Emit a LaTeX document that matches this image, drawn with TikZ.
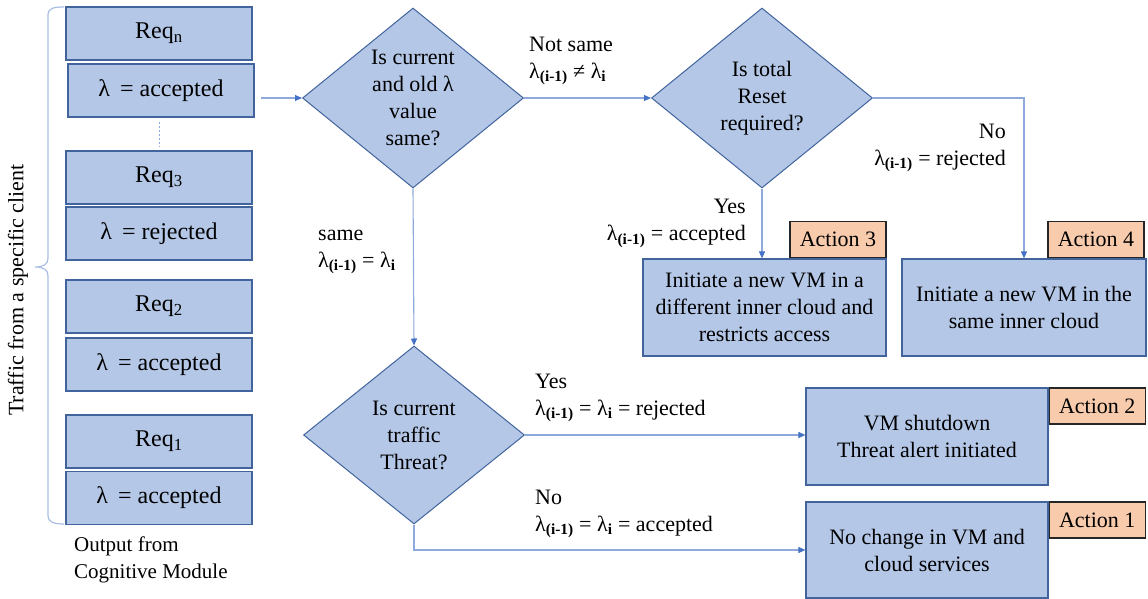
\documentclass[tikz,border=0pt]{standalone}
\usepackage{fontspec}
\setmainfont{Liberation Serif}
\usetikzlibrary{shapes.geometric,arrows.meta,calc}
\definecolor{boxfill}{HTML}{B4C7E7}
\definecolor{boxline}{HTML}{41649C}
\definecolor{tagfill}{HTML}{F8CBAD}
\definecolor{linkline}{HTML}{8EA9DB}
\definecolor{tipblue}{HTML}{4472C4}
\definecolor{bracecol}{HTML}{A9BEE2}
% lambda with a bold subscript
\newcommand{\lamsub}[1]{λ\textsubscript{\textbf{#1}}}

\begin{document}
\begin{tikzpicture}[x=1pt,y=-1pt,
  txt/.style={font=\fontsize{22}{27}\selectfont},
  reqbox/.style={draw=boxline, line width=1.2pt, fill=boxfill,
    minimum width=186pt, minimum height=53pt, inner sep=0pt,
    font=\fontsize{24}{27}\selectfont},
  decision/.style={diamond, draw=boxline, line width=1pt, fill=boxfill,
    minimum width=221pt, minimum height=180pt, inner sep=0pt,
    align=center, txt},
  actbox/.style={draw=boxline, line width=1.2pt, fill=boxfill,
    minimum width=243pt, minimum height=97pt, inner sep=0pt,
    align=center, txt},
  tag/.style={draw=black!85, line width=1.2pt, fill=tagfill,
    minimum width=96pt, minimum height=36pt, inner sep=0pt, txt},
  link/.style={draw=linkline, line width=1.1pt,
    -{Triangle[length=7pt,width=6pt,color=tipblue]}},
  lbl/.style={txt, inner sep=0pt},
]
\useasboundingbox (0,0) rectangle (1148,599);

% requests from the cognitive module
\node[reqbox] (rqn) at (159,33.5) {Req\textsubscript{n}};
\node[reqbox] (lmn) at (161,90.5) {λ\hspace{10pt}= accepted};
\node[reqbox] (rq3) at (159,177.5) {Req\textsubscript{3}};
\node[reqbox] (lm3) at (159,233.5) {λ\hspace{10pt}= rejected};
\node[reqbox] (rq2) at (159,306.5) {Req\textsubscript{2}};
\node[reqbox] (lm2) at (159,364.5) {λ\hspace{10pt}= accepted};
\node[reqbox] (rq1) at (159,441.5) {Req\textsubscript{1}};
\node[reqbox] (lm1) at (159,498) {λ\hspace{10pt}= accepted};

\draw[linkline, dash pattern=on 2pt off 2pt, line width=0.8pt]
  ([yshift=-4pt]lmn.south -| rq3.north) -- ([yshift=3pt]rq3.north);

% client brace and captions
\draw[bracecol, line width=1.2pt]
  (64,7) .. controls (54,7) and (48,8) .. (48,15) -- (48,258)
  .. controls (48,264) and (44,267) .. (35,267)
  .. controls (44,267) and (48,270) .. (48,276) -- (48,516)
  .. controls (48,522) and (54,524) .. (64,524);
\node[txt, rotate=90, inner sep=0pt] (trf) at (18,290) {Traffic from a specific client};
\node[anchor=west, align=left, inner sep=0pt,
  font=\fontsize{21}{27}\selectfont] (out) at (74,560) {Output from\\Cognitive Module};

% decisions
\node[decision] (d1) at (413,98) {Is current\\and old λ\\value\\same?};
\node[decision] (d2) at (762,98) {Is total\\Reset\\required?};
\node[decision, minimum height=178pt] (d3) at (414,435) {Is current\\traffic\\Threat?};

% actions
\node[actbox] (a3) at (764.5,307.5) {Initiate a new VM in a\\different inner cloud and\\restricts access};
\node[actbox, minimum width=244pt] (a4) at (1024,307.5) {Initiate a new VM in the\\same inner cloud};
\node[actbox, minimum width=242pt] (a2) at (927,436.5) {VM shutdown\\Threat alert initiated};
\node[actbox, minimum width=242pt, minimum height=96pt] (a1) at (927,550) {No change in VM and\\cloud services};

\node[tag, anchor=south east] (t3) at (a3.north east) {Action 3};
\node[tag, anchor=south east] (t4) at ([xshift=-2pt]a4.north east) {Action 4};
\node[tag, anchor=north west] (t2) at (a2.north east) {Action 2};
\node[tag, anchor=north west] (t1) at (a1.north east) {Action 1};

% connectors
\draw[link] ([xshift=6pt]lmn.east |- d1.west) -- (d1.west);
\draw[link] (d1.east) -- (d2.west);
\draw[link] (d2.south) -- (d2.south |- a3.north);
\draw[link] (d2.east) -| (a4.north);
\draw[link] (d1.south) -- (d3.north);
\draw[link] (d3.east) -- (d3.east -| a2.west);
\draw[link] (d3.south) |- (a1.west);

% branch labels
\node[lbl, anchor=west, align=left] (lnot) at (529,61) {Not same\\\lamsub{(i-1)} ≠ \lamsub{i}};
\node[lbl, anchor=west, align=left] (lsame) at (318,252) {same\\\lamsub{(i-1)} = \lamsub{i}};
\node[lbl, anchor=east, align=right] (lyes3) at (746,223.5) {Yes\\\lamsub{(i-1)} = accepted};
\node[lbl, anchor=east, align=right] (lno4) at (1006,148) {No\\\lamsub{(i-1)} = rejected};
\node[lbl, anchor=west, align=left] (lyes2) at (535,398) {Yes\\\lamsub{(i-1)} = \lamsub{i} = rejected};
\node[lbl, anchor=west, align=left] (lno1) at (535,514) {No\\\lamsub{(i-1)} = \lamsub{i} = accepted};
\end{tikzpicture}
\end{document}
